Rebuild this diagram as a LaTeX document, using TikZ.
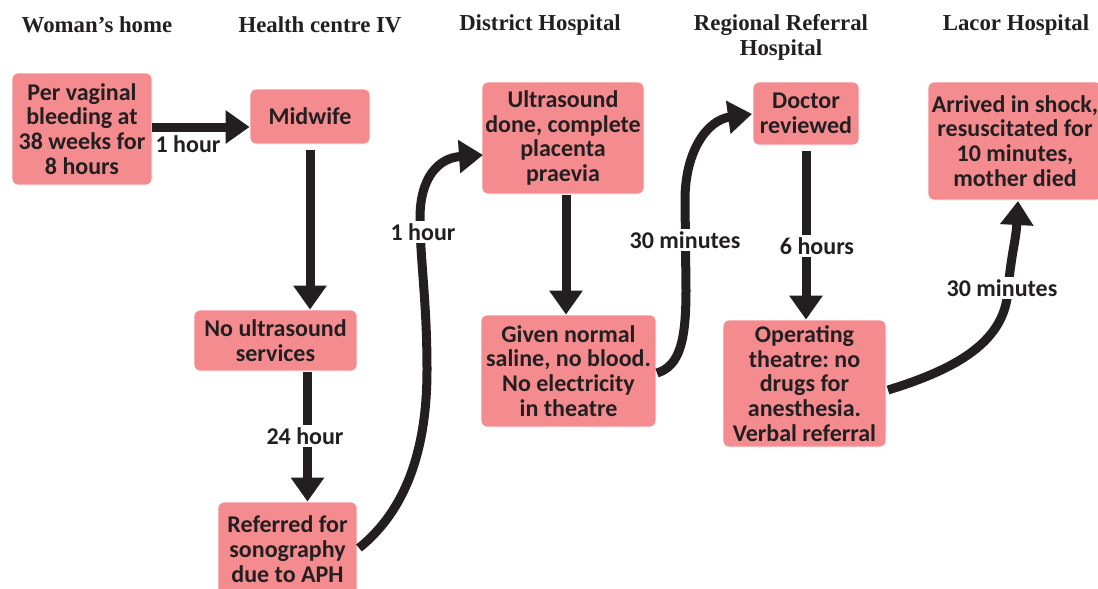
\documentclass[tikz,border=0pt]{standalone}
\usepackage{fontspec}
\setmainfont{Carlito}
\newfontfamily\headfont{Liberation Serif}
\usetikzlibrary{arrows.meta}
\frenchspacing
\definecolor{boxpink}{RGB}{244,139,143}
\definecolor{ink}{RGB}{35,31,32}
\tikzset{
  stepbox/.style={fill=boxpink, draw=white, line width=0.8pt, rounded corners=6pt,
    align=center, inner sep=0pt, text=ink,
    font=\fontsize{24}{24.8}\selectfont\bfseries},
  heading/.style={align=center, text=ink, inner sep=0pt,
    font=\headfont\fontsize{22.8}{25}\selectfont\bfseries},
  flow/.style={draw=ink, line width=9pt,
    -{Triangle[width=32pt,length=24pt]}},
  lbl/.style={fill=white, inner sep=2pt, text=ink,
    font=\fontsize{24}{24}\selectfont\bfseries},
  lblplain/.style={inner sep=0pt, text=ink,
    font=\fontsize{24}{24}\selectfont\bfseries},
}
\begin{document}
\begin{tikzpicture}[x=1pt,y=-1pt]
\useasboundingbox (0,0) rectangle (1098,589);

% headings
\node[heading] (h1) at (97,25) {Woman’s home};
\node[heading] (h2) at (320,25) {Health centre IV};
\node[heading] (h3) at (540,25) {District Hospital};
\node[heading] (h4) at (781,37) {Regional Referral\\Hospital};
\node[heading] (h5) at (1016,25) {Lacor Hospital};

% boxes
\node[stepbox, minimum width=140pt, minimum height=112pt] (b1) at (82,129)
  {Per vaginal\\bleeding at\\38 weeks for\\8 hours};
\node[stepbox, minimum width=120pt, minimum height=55pt] (b2) at (310,116.5)
  {Midwife};
\node[stepbox, minimum width=163pt, minimum height=61pt] (b3) at (275.5,340.5)
  {No ultrasound\\services};
\node[stepbox, minimum width=139pt, minimum height=94pt] (b4) at (287.5,549)
  {Referred for\\sonography\\due to APH};
\node[stepbox, minimum width=162pt, minimum height=112pt] (b5) at (563,138)
  {Ultrasound\\done, complete\\placenta\\praevia};
\node[stepbox, minimum width=175pt, minimum height=112pt] (b6) at (568.5,371)
  {Given normal\\saline, no blood.\\No electricity\\in theatre};
\node[stepbox, minimum width=106pt, minimum height=63pt] (b7) at (806,113.5)
  {Doctor\\reviewed};
\node[stepbox, minimum width=163pt, minimum height=127pt] (b8) at (804.5,383.5)
  {Operating\\theatre: no\\drugs for\\anesthesia.\\Verbal referral};
\node[stepbox, minimum width=174pt, minimum height=118pt] (b9) at (1015,141)
  {Arrived in shock,\\resuscitated for\\10 minutes,\\mother died};

% straight connectors
\draw[flow] (b1.east |- 0,127) -- (b2.west |- 0,127);
\node[lblplain] (l1) at (188,144) {1 hour};

\draw[flow] ([yshift=-6pt]b2.south) -- (b3.north -| b2.south);

\draw[flow] ([xshift=32pt,yshift=-1pt]b3.south) -- ([xshift=32pt]b3.south |- b4.north);
\node[lbl] (l3) at (305,436) {24 hour};

\draw[flow] ([xshift=3pt,yshift=-1pt]b5.south) -- ([xshift=3pt]b5.south |- b6.north);

\draw[flow] ([yshift=-6pt]b7.south) -- (b8.north -| b7.south);
\node[lbl] (l7) at (817,246) {6 hours};

% curved connectors
\coordinate (c4s) at (359,548);
\coordinate (c4e) at (483,155);
\draw[flow] (c4s) .. controls (400,515) and (427,460) .. (427,370)
  .. controls (427,300) and (420,260) .. (420,218)
  .. controls (420,178) and (438,158) .. (c4e);
\node[lbl] (l4) at (423,232) {1 hour};

\coordinate (c6s) at (657,373);
\coordinate (c6e) at (752,114);
\draw[flow] (c6s) .. controls (680,366) and (686,340) .. (686,290)
  -- (685,200)
  .. controls (685,150) and (708,120) .. (c6e);
\node[lbl] (l6) at (685,240) {30 minutes};

\coordinate (c8s) at (888,390);
\coordinate (c8e) at (1018,201);
\draw[flow] (c8s) .. controls (960,368) and (1005,340) .. (1008,290)
  .. controls (1011,255) and (1016,240) .. (c8e);
\node[lbl] (l8) at (1002,288) {30 minutes};
\end{tikzpicture}
\end{document}
